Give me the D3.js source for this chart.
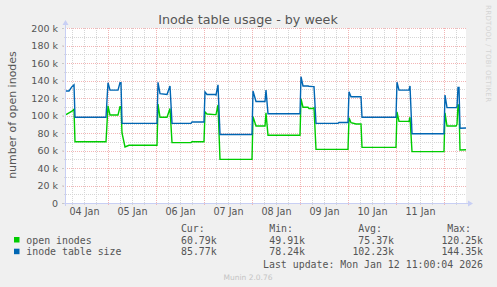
<!DOCTYPE html>
<html>
<head>
<meta charset="utf-8">
<script src="https://cdn.jsdelivr.net/npm/d3@7"></script>
<style>
  body { margin: 0; background: #f0f0f0; }
  svg { display: block; }
</style>
</head>
<body>
<div id="chart-area"></div>
<script>
// hours after 04 Jan 00:00, values in thousands
var hours = [3, 4.5, 6, 7, 7.5, 23, 24, 25, 29, 30, 30.5, 31, 32.5, 34.5, 48.5, 49, 50, 53.5, 55, 56,
	65.5, 66, 72, 72.5, 73.5, 77.5, 78, 79, 80, 96, 96.5, 98, 102.5, 103, 104, 120, 120.5, 121.5, 124,
	124.5, 126.5, 127, 128, 139, 139.5, 144, 144.5, 145.5, 148, 150.5, 151, 168, 168.5, 169.5, 174.5,
	175, 176, 192, 192.5, 193.5, 198, 198.5, 199, 199.5, 200, 203];

var tableSize = [128, 128, 133, 135, 98, 98, 137.5, 129, 129, 137.5, 137.5, 91, 91, 91, 91, 138, 125, 124, 133.7, 91,
	91, 92.5, 92.5, 127, 124, 124, 123.5, 135, 78.24, 78.24, 128, 116, 116, 129, 102, 102, 144.35, 133.7, 133.7,
	133.5, 133, 133, 91, 91, 92, 92, 127, 121.5, 121.5, 121.5, 98, 98, 138, 129, 129,
	133.7, 79.2, 79.2, 123.4, 109, 109, 110, 132, 132, 85.5, 85.77];

var openInodes = [101, 103, 105, 107, 70, 70, 111, 100.5, 100.5, 110, 110, 80, 64, 66, 66, 113, 98, 98, 108, 69,
	69, 70, 70, 104, 101.7, 101, 101, 112, 49.91, 49.91, 98.7, 88, 88, 103, 77.5, 77.5, 119, 109.4, 109.4,
	108, 108, 109, 61.3, 61.3, 61.3, 61.3, 97.5, 91.8, 90.3, 90.3, 63.6, 63.6, 104, 93.3, 93.3,
	98, 58.7, 58.7, 103, 88, 88, 90, 112, 112, 60.5, 60.79];

var dayLabels = ["04 Jan", "05 Jan", "06 Jan", "07 Jan", "08 Jan", "09 Jan", "10 Jan", "11 Jan"];
var yTicks = [0, 20, 40, 60, 80, 100, 120, 140, 160, 180, 200];

var seriesNames = ["open inodes", "inode table size"];
var seriesColors = ["#00cc00", "#0066b3"];
var curValues = ["60.79k", "85.77k"];
var minValues = ["49.91k", "78.24k"];
var avgValues = ["75.37k", "102.23k"];
var maxValues = ["120.25k", "144.35k"];

var W = 497, H = 287;
var plot = { left: 66, right: 466, top: 28, bottom: 203 };

var svg = d3.select("#chart-area").append("svg")
	.attr("width", W)
	.attr("height", H)
	.style("font-family", "'DejaVu Sans', sans-serif");

svg.append("rect").attr("width", W).attr("height", H).attr("fill", "#f0f0f0");

function hourDate(h) {
	return new Date(2026, 0, 4, 0, Math.round(h * 60));
}

var x = d3.scaleTime()
	.domain([hourDate(3), hourDate(203)])
	.range([plot.left, plot.right]);

var y = d3.scaleLinear()
	.domain([0, 200])
	.range([plot.bottom, plot.top]);

// plot canvas
svg.append("rect")
	.attr("x", plot.left).attr("y", plot.top)
	.attr("width", plot.right - plot.left).attr("height", plot.bottom - plot.top)
	.attr("fill", "#ffffff");

// grid
var grid = svg.append("g");
var minorX = x.ticks(d3.timeHour.every(6)).filter(d => d.getHours() !== 0);
var majorX = x.ticks(d3.timeDay.every(1));
var minorColor = "#d6d6d6", majorColor = "#f2b4b4";

grid.selectAll(".vminor").data(minorX).enter().append("line")
	.attr("x1", d => Math.round(x(d)) + 0.5).attr("x2", d => Math.round(x(d)) + 0.5)
	.attr("y1", plot.top).attr("y2", plot.bottom + 2)
	.attr("stroke", minorColor).attr("stroke-dasharray", "1,1");

var minorY = d3.range(10, 201, 20);
grid.selectAll(".hminor").data(minorY).enter().append("line")
	.attr("x1", plot.left - 2).attr("x2", plot.right)
	.attr("y1", d => Math.round(y(d)) + 0.5).attr("y2", d => Math.round(y(d)) + 0.5)
	.attr("stroke", minorColor).attr("stroke-dasharray", "1,1");

grid.selectAll(".vmajor").data(majorX).enter().append("line")
	.attr("x1", d => Math.round(x(d)) + 0.5).attr("x2", d => Math.round(x(d)) + 0.5)
	.attr("y1", plot.top).attr("y2", plot.bottom + 3)
	.attr("stroke", majorColor).attr("stroke-dasharray", "1,1");

grid.selectAll(".hmajor").data(yTicks.slice(1)).enter().append("line")
	.attr("x1", plot.left - 3).attr("x2", plot.right)
	.attr("y1", d => Math.round(y(d)) + 0.5).attr("y2", d => Math.round(y(d)) + 0.5)
	.attr("stroke", majorColor).attr("stroke-dasharray", "1,1");

// series
var line = d3.line()
	.x(d => x(d.t))
	.y(d => y(d.v));

[openInodes, tableSize].forEach(function (vals, i) {
	var pts = hours.map((h, j) => ({ t: hourDate(h), v: vals[j] }));
	svg.append("path")
		.datum(pts)
		.attr("fill", "none")
		.attr("stroke", seriesColors[i])
		.attr("stroke-width", 1.4)
		.attr("d", line);
});

// axes lines + arrows
var axisColor = "#c8cff4";
svg.append("line")
	.attr("x1", plot.left - 0.5).attr("x2", plot.left - 0.5)
	.attr("y1", plot.bottom + 3).attr("y2", plot.top - 5)
	.attr("stroke", axisColor);
svg.append("line")
	.attr("x1", plot.left - 3).attr("x2", plot.right + 5)
	.attr("y1", plot.bottom + 0.5).attr("y2", plot.bottom + 0.5)
	.attr("stroke", axisColor);
svg.append("path")
	.attr("d", "M" + (plot.left - 3.5) + "," + (plot.top - 3) + "L" + (plot.left - 0.5) + "," + (plot.top - 8) + "L" + (plot.left + 2.5) + "," + (plot.top - 3) + "Z")
	.attr("fill", axisColor);
svg.append("path")
	.attr("d", "M" + (plot.right + 2) + "," + (plot.bottom - 2.5) + "L" + (plot.right + 7) + "," + (plot.bottom + 0.5) + "L" + (plot.right + 2) + "," + (plot.bottom + 3.5) + "Z")
	.attr("fill", axisColor);

// y axis labels
var yAxis = svg.append("g")
	.attr("transform", "translate(" + (plot.left - 2) + ",0)")
	.call(d3.axisLeft(y).tickValues(yTicks).tickSize(2).tickPadding(4)
		.tickFormat(d => d === 0 ? "0" : d + " k"));
yAxis.select(".domain").remove();
yAxis.selectAll("line").attr("stroke", "#c8c8c8");
yAxis.selectAll("text").attr("fill", "#555").attr("font-size", "9.5px")
	.attr("font-family", "'DejaVu Sans', sans-serif");

// x axis labels at noon
var noonDates = dayLabels.map((d, i) => hourDate(i * 24 + 12));
var xAxis = svg.append("g")
	.attr("transform", "translate(0," + plot.bottom + ")")
	.call(d3.axisBottom(x).tickValues(noonDates).tickSize(0).tickPadding(5)
		.tickFormat((d, i) => dayLabels[i]));
xAxis.select(".domain").remove();
xAxis.selectAll("text").attr("fill", "#555").attr("font-size", "9.6px")
	.attr("font-family", "'DejaVu Sans', sans-serif");

// title
svg.append("text")
	.attr("x", 248).attr("y", 23.5)
	.attr("text-anchor", "middle")
	.attr("font-size", "12.7px")
	.attr("fill", "#555")
	.text("Inode table usage - by week");

// y label
svg.append("text")
	.attr("transform", "translate(15.5,115) rotate(-90)")
	.attr("text-anchor", "middle")
	.attr("font-size", "11px")
	.attr("fill", "#555")
	.text("number of open inodes");

// rrdtool mark
svg.append("text")
	.attr("transform", "translate(486,5) rotate(90)")
	.attr("font-size", "7px")
	.attr("fill", "#d4d4d4")
	.attr("textLength", 97)
	.text("RRDTOOL / TOBI OETIKER");

// legend
var mono = "'DejaVu Sans Mono', monospace";
var legend = svg.append("g").attr("font-family", mono).attr("font-size", "9.9px").attr("fill", "#555");

var colEnds = [216.7, 305, 394, 483];
["Cur:", "Min:", "Avg:", "Max:"].forEach(function (h, i) {
	legend.append("text").attr("x", colEnds[i] - 12).attr("y", 232)
		.attr("text-anchor", "end").text(h);
});

var cols = [curValues, minValues, avgValues, maxValues];
seriesNames.forEach(function (name, i) {
	var yy = 243.5 + i * 11.7;
	legend.append("rect")
		.attr("x", 14).attr("y", yy - 6.5).attr("width", 5.5).attr("height", 5.5)
		.attr("fill", seriesColors[i]);
	legend.append("text").attr("x", 26.3).attr("y", yy).text(name);
	cols.forEach(function (c, k) {
		legend.append("text").attr("x", colEnds[k]).attr("y", yy)
			.attr("text-anchor", "end").text(c[i]);
	});
});

legend.append("text").attr("x", 483).attr("y", 267.5)
	.attr("text-anchor", "end")
	.text("Last update: Mon Jan 12 11:00:04 2026");

svg.append("text")
	.attr("x", 248).attr("y", 279.5)
	.attr("text-anchor", "middle")
	.attr("font-size", "7.5px")
	.attr("fill", "#c4c4c4")
	.text("Munin 2.0.76");
</script>
</body>
</html>
